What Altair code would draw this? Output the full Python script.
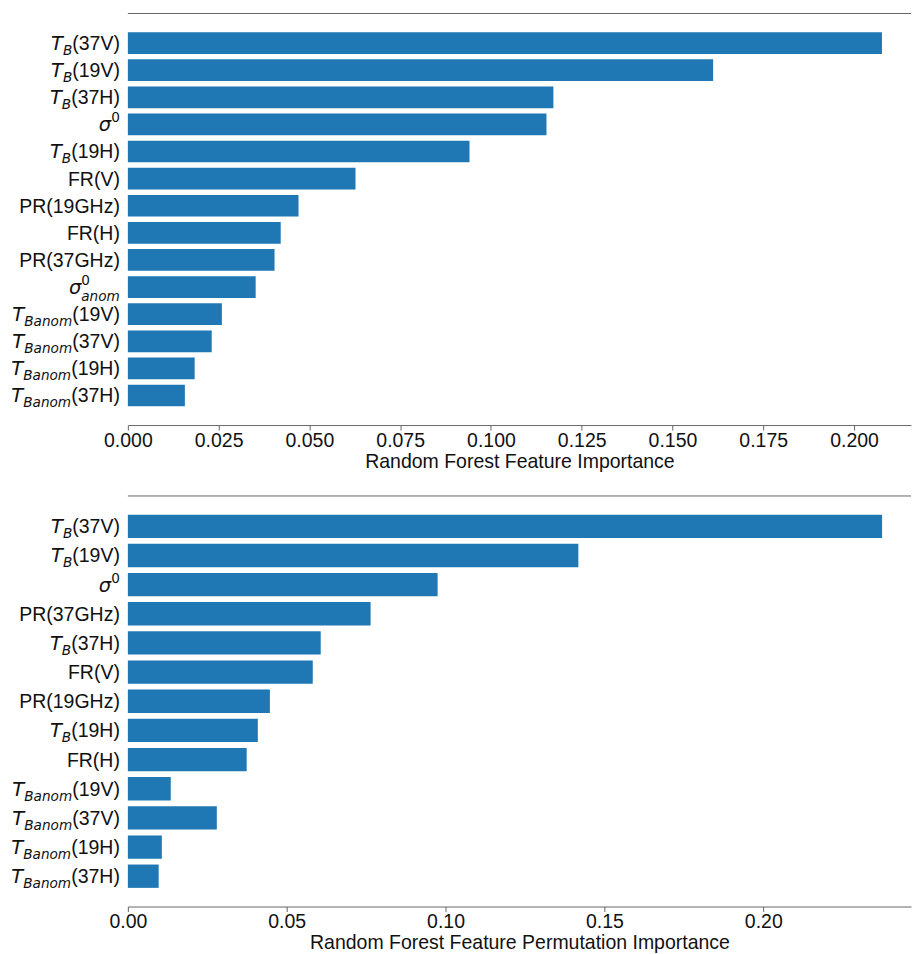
import altair as alt
import pandas as pd

# ---------------- data ----------------
top_features = ["TB(37V)", "TB(19V)", "TB(37H)", "sigma0", "TB(19H)", "FR(V)", "PR(19GHz)",
                "FR(H)", "PR(37GHz)", "sigma0anom", "TBanom(19V)", "TBanom(37V)",
                "TBanom(19H)", "TBanom(37H)"]
top_values = [0.2077, 0.1612, 0.1172, 0.1153, 0.0941, 0.0627, 0.0470,
              0.0421, 0.0404, 0.0352, 0.0259, 0.0231, 0.0184, 0.0157]

bottom_features = ["TB(37V)", "TB(19V)", "sigma0", "PR(37GHz)", "TB(37H)", "FR(V)", "PR(19GHz)",
                   "TB(19H)", "FR(H)", "TBanom(19V)", "TBanom(37V)", "TBanom(19H)", "TBanom(37H)"]
bottom_values = [0.2374, 0.1418, 0.0975, 0.0764, 0.0607, 0.0582, 0.0447,
                 0.0409, 0.0374, 0.0135, 0.0280, 0.0107, 0.0097]

# label pieces: key, italic symbol, subscript, superscript, plain suffix
label_keys = ["TB(37V)", "TB(19V)", "TB(37H)", "TB(19H)", "sigma0", "sigma0anom", "FR(V)", "FR(H)",
              "PR(19GHz)", "PR(37GHz)", "TBanom(19V)", "TBanom(37V)", "TBanom(19H)", "TBanom(37H)"]
label_symbol = ["T", "T", "T", "T", "σ", "σ", "", "", "", "", "T", "T", "T", "T"]
label_sub = ["B", "B", "B", "B", "", "anom", "", "", "", "", "Banom", "Banom", "Banom", "Banom"]
label_sup = ["", "", "", "", "0", "0", "", "", "", "", "", "", "", ""]
label_suffix = ["(37V)", "(19V)", "(37H)", "(19H)", "", "", "FR(V)", "FR(H)",
                "PR(19GHz)", "PR(37GHz)", "(19V)", "(37V)", "(19H)", "(37H)"]

top_ticks = [0.0, 0.025, 0.05, 0.075, 0.1, 0.125, 0.15, 0.175, 0.2]
bottom_ticks = [0.0, 0.05, 0.1, 0.15, 0.2]

# ---------------- style ----------------
BAR = "#1f77b4"
SPINE = "#666666"
TXT = "#111111"
FS = 19.5
SFS = FS * 0.7
GAP = 8.0
W = 784

ARIAL = {"(": .333, ")": .333, "V": .667, "H": .722, "G": .778, "z": .5, "P": .667,
         "R": .722, "F": .611}
DEJAVU = {"T": .611, "B": .686, "a": .613, "n": .634, "o": .612, "m": .974, "σ": .634, "0": .636}


def w_arial(s, size):
    return sum(ARIAL.get(c, .556) for c in s) * size


def w_dejavu(s, size):
    return sum(DEJAVU.get(c, .6) for c in s) * size


def label_rows(features):
    rows = []
    for f in features:
        i = label_keys.index(f)
        sym, sub, sup, suf = label_symbol[i], label_sub[i], label_sup[i], label_suffix[i]
        x_suf = -GAP
        w_script = max(w_dejavu(sub, SFS), w_dejavu(sup, SFS))
        x_script = x_suf - w_arial(suf, FS) - w_script
        if suf:
            rows.append({"feature": f, "px": x_suf, "text": suf, "kind": "suffix"})
        if sub:
            rows.append({"feature": f, "px": x_script, "text": sub,
                         "kind": "sub2" if sup else "sub"})
        if sup:
            rows.append({"feature": f, "px": x_script, "text": sup, "kind": "sup"})
        if sym:
            rows.append({"feature": f, "px": x_script, "text": sym, "kind": "main"})
    return pd.DataFrame(rows)


def panel(features, values, ticks, xmax, fmt, title, height, pad_outer):
    df = pd.DataFrame({"feature": features, "value": values})
    ysc = alt.Scale(domain=features, paddingInner=0.2, paddingOuter=pad_outer)
    bars = alt.Chart(df).mark_bar(color=BAR).encode(
        x=alt.X("value:Q", scale=alt.Scale(domain=[0, xmax], nice=False, zero=True),
                axis=alt.Axis(values=ticks, format=fmt, title=title, grid=False,
                              tickSize=5, labelPadding=1, titlePadding=3,
                              labelFlush=False)),
        y=alt.Y("feature:N", sort=features, scale=ysc,
                axis=alt.Axis(labels=False, ticks=True, tickSize=5, title=None, grid=False)),
    )
    top_rule = alt.Chart(pd.DataFrame({"a": [0]})).mark_rule(color=SPINE, strokeWidth=1).encode(
        x=alt.value(0), x2=alt.value(W), y=alt.value(0)
    )
    ldf = label_rows(features)
    base = alt.Chart(ldf)
    yenc = alt.Y("feature:N", sort=features, scale=ysc, axis=None)
    xenc = alt.X("px:Q", scale=None, axis=None)
    layers = [bars, top_rule]
    specs = {
        "suffix": dict(align="right", font="Liberation Sans", fontSize=FS, dy=7),
        "main": dict(align="right", font="DejaVu Sans", fontStyle="italic", fontSize=FS, dy=7),
        "sub": dict(align="left", font="DejaVu Sans", fontStyle="italic", fontSize=SFS, dy=11.8),
        "sub2": dict(align="left", font="DejaVu Sans", fontStyle="italic", fontSize=SFS, dy=14),
        "sup": dict(align="left", font="DejaVu Sans", fontSize=SFS, dy=-2),
    }
    for kind, props in specs.items():
        layers.append(
            base.transform_filter(alt.datum.kind == kind).mark_text(
                baseline="alphabetic", color=TXT, **props
            ).encode(x=xenc, y=yenc, text="text:N")
        )
    return alt.layer(*layers).properties(width=W, height=height)


top = panel(top_features, top_values, top_ticks, 0.2157, ".3f",
            "Random Forest Feature Importance", 412, 0.69)
bottom = panel(bottom_features, bottom_values, bottom_ticks, 0.2465, ".2f",
               "Random Forest Feature Permutation Importance", 411, 0.64)

chart = alt.vconcat(top, bottom, spacing=24).properties(
    padding={"left": 11, "top": 12, "right": 0, "bottom": 0}
).configure_view(stroke=None).configure_axis(
    labelFont="Liberation Sans", labelFontSize=FS, labelColor=TXT,
    titleFont="Liberation Sans", titleFontSize=FS, titleColor=TXT, titleFontWeight="normal",
    domainColor=SPINE, tickColor=SPINE, domainWidth=1, tickWidth=1,
)

chart.save("out.html", embed_options={"renderer": "svg", "actions": False})
